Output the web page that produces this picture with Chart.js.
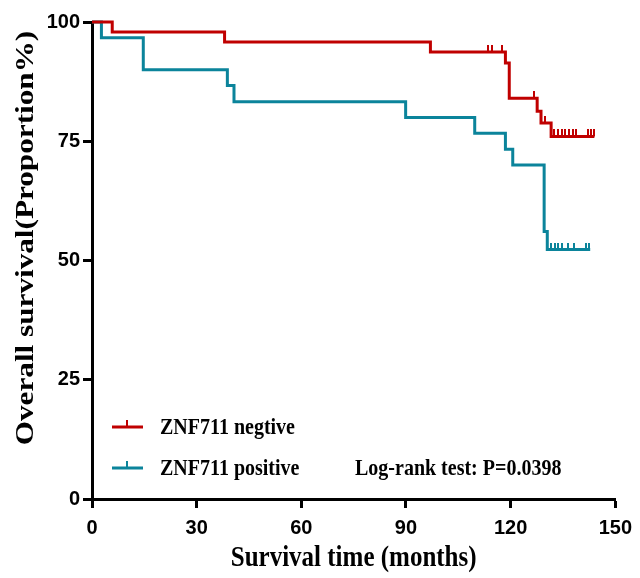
<!DOCTYPE html>
<html>
<head>
<meta charset="utf-8">
<script src="https://cdn.jsdelivr.net/npm/chart.js@4.4.1/dist/chart.umd.min.js"></script>
<style>
  body { margin: 0; background: #fff; }
  #wrap { width: 640px; height: 578px; }
</style>
</head>
<body>
<div id="wrap"><canvas id="myChart" width="640" height="578"></canvas></div>
<script>
// ZNF711 negative group (step times in months, survival %)
const negTime = [0, 5.8, 38, 97, 118.5, 119.6, 127.6, 128.7, 131.6, 144];
const negSurv = [100, 97.9, 95.8, 93.7, 91.4, 84.0, 81.3, 78.8, 76.0, 76.0];
const negCensorTime = [113.5, 114.7, 117.6, 126.6, 129.8, 132.5, 133.6, 134.7, 135.7, 136.7, 137.9, 138.8, 142.1, 143.1, 143.8];
const negCensorSurv = [93.7, 93.7, 93.7, 84.0, 78.8, 76.0, 76.0, 76.0, 76.0, 76.0, 76.0, 76.0, 76.0, 76.0, 76.0];

// ZNF711 positive group
const posTime = [0, 2.7, 14.7, 38.8, 40.7, 89.9, 109.7, 118.5, 120.6, 129.6, 130.5, 142.8];
const posSurv = [100, 96.7, 90.0, 86.7, 83.3, 80.0, 76.7, 73.3, 70.0, 56.1, 52.3, 52.3];
const posCensorTime = [131.6, 132.6, 133.5, 134.6, 136.3, 138.2, 141.5, 142.6];
const posCensorSurv = [52.3, 52.3, 52.3, 52.3, 52.3, 52.3, 52.3, 52.3];

const seriesNames = ['ZNF711 negtive', 'ZNF711 positive'];
const testText = 'Log-rank test: P=0.0398';
const xTitle = 'Survival time (months)';
const yTitle = 'Overall survival(Proportion%)';
const xTicks = [0, 30, 60, 90, 120, 150];
const yTicks = [0, 25, 50, 75, 100];

const redColor = '#c00000';
const tealColor = '#0b849b';

// small vertical tick that sits on top of the curve
function censorMark(color) {
    const c = document.createElement('canvas');
    c.width = 2;
    c.height = 14;
    const g = c.getContext('2d');
    g.fillStyle = color;
    g.fillRect(0, 0, 2, 7);
    return c;
}

function toPoints(xs, ys) {
    return xs.map((x, i) => ({ x: x, y: ys[i] }));
}

// titles, legend and test text drawn on the canvas
const textPlugin = {
    id: 'kmText',
    afterDraw(chart) {
        const ctx = chart.ctx;
        const area = chart.chartArea;
        ctx.save();
        ctx.fillStyle = '#000';
        ctx.textBaseline = 'middle';

        // y title
        ctx.save();
        ctx.translate(26, 238);
        ctx.rotate(-Math.PI / 2);
        ctx.scale(1.2, 1);
        ctx.font = 'bold 26px "Liberation Serif"';
        ctx.textAlign = 'center';
        ctx.fillText(yTitle, 0, 0);
        ctx.restore();

        // x title
        ctx.save();
        ctx.translate((area.left + area.right) / 2, 558);
        ctx.scale(1, 1.2);
        ctx.font = 'bold 25px "Liberation Serif"';
        ctx.textAlign = 'center';
        ctx.fillText(xTitle, 0, 0);
        ctx.restore();

        // legend
        const colors = [redColor, tealColor];
        const rows = [427, 468];
        seriesNames.forEach((name, i) => {
            const y = rows[i];
            ctx.fillStyle = colors[i];
            ctx.fillRect(112, y - 1.5, 31, 3);
            ctx.fillRect(126, y - 7, 2, 6);
            ctx.save();
            ctx.translate(160, y + 1);
            ctx.scale(1, 1.2);
            ctx.fillStyle = '#000';
            ctx.font = 'bold 20px "Liberation Serif"';
            ctx.textAlign = 'left';
            ctx.fillText(name, 0, 0);
            ctx.restore();
        });

        ctx.save();
        ctx.translate(355, rows[1] + 1);
        ctx.scale(1, 1.2);
        ctx.fillStyle = '#000';
        ctx.font = 'bold 20px "Liberation Serif"';
        ctx.textAlign = 'left';
        ctx.fillText(testText, 0, 0);
        ctx.restore();

        ctx.restore();
    }
};

const tickFont = { family: '"Liberation Sans"', size: 20, weight: 'bold' };

const ctx = document.getElementById('myChart').getContext('2d');
const myChart = new Chart(ctx, {
    type: 'line',
    data: {
        datasets: [
            {
                data: toPoints(negTime, negSurv),
                borderColor: redColor,
                borderWidth: 3,
                stepped: 'before',
                pointRadius: 0,
                fill: false,
                clip: false
            },
            {
                data: toPoints(posTime, posSurv),
                borderColor: tealColor,
                borderWidth: 3,
                stepped: 'before',
                pointRadius: 0,
                fill: false,
                clip: false
            },
            {
                data: toPoints(negCensorTime, negCensorSurv),
                showLine: false,
                pointStyle: censorMark(redColor),
                pointRadius: 4,
                clip: false
            },
            {
                data: toPoints(posCensorTime, posCensorSurv),
                showLine: false,
                pointStyle: censorMark(tealColor),
                pointRadius: 4,
                clip: false
            }
        ]
    },
    options: {
        responsive: false,
        animation: false,
        layout: {
            padding: { top: 22, right: 19, left: 0, bottom: 0 }
        },
        plugins: {
            legend: { display: false },
            tooltip: { enabled: false }
        },
        scales: {
            x: {
                type: 'linear',
                min: 0,
                max: 150,
                afterBuildTicks: function(scale) {
                    scale.ticks = xTicks.map(v => ({ value: v }));
                },
                afterFit: function(scale) {
                    scale.height = 79;
                },
                border: { color: '#000', width: 3 },
                grid: {
                    drawOnChartArea: false,
                    drawTicks: true,
                    tickLength: 9,
                    tickWidth: 3,
                    tickColor: '#000'
                },
                ticks: {
                    color: '#000',
                    font: tickFont,
                    padding: 8,
                    maxRotation: 0
                }
            },
            y: {
                min: 0,
                max: 100,
                afterBuildTicks: function(scale) {
                    scale.ticks = yTicks.map(v => ({ value: v }));
                },
                afterFit: function(scale) {
                    scale.width = 92;
                },
                border: { color: '#000', width: 3 },
                grid: {
                    drawOnChartArea: false,
                    drawTicks: true,
                    tickLength: 9,
                    tickWidth: 3,
                    tickColor: '#000'
                },
                ticks: {
                    color: '#000',
                    font: tickFont,
                    padding: 3
                }
            }
        }
    },
    plugins: [textPlugin]
});
</script>
</body>
</html>
